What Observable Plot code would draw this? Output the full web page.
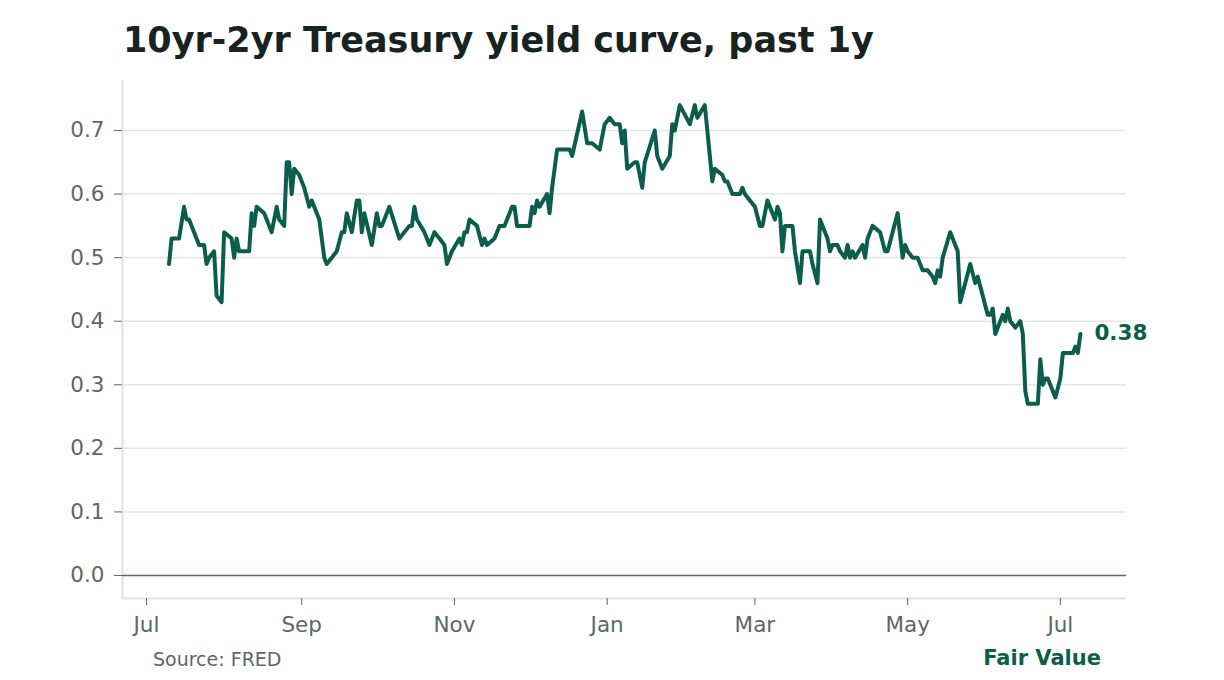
<!DOCTYPE html>
<html>
<head>
<meta charset="utf-8">
<script src="https://cdn.jsdelivr.net/npm/d3@7"></script>
<script src="https://cdn.jsdelivr.net/npm/@observablehq/plot@0.6"></script>
<style>
  html, body { margin: 0; padding: 0; background: #ffffff; }
  #wrap { position: relative; width: 1224px; height: 680px; overflow: hidden; font-family: "DejaVu Sans", sans-serif; }
  #title { position: absolute; left: 123px; top: 23px; font-size: 35px; line-height: 1; font-weight: bold; color: #17231f; white-space: nowrap; }
  #chart { position: absolute; left: 0; top: 62px; }
  #source { position: absolute; left: 153px; top: 650px; font-size: 19px; line-height: 1; color: #5a6966; white-space: nowrap; }
  #brand { position: absolute; right: 123px; top: 648px; font-size: 21px; line-height: 1; font-weight: bold; color: #0b5e4c; white-space: nowrap; }
</style>
</head>
<body>
<div id="wrap">
  <div id="title">10yr-2yr Treasury yield curve, past 1y</div>
  <div id="chart"></div>
  <div id="source">Source: FRED</div>
  <div id="brand">Fair Value</div>
</div>
<script>
// Observation dates (daily, sampled at visible turning points)
const dates = [
  "2025-07-10","2025-07-11","2025-07-14","2025-07-16","2025-07-17","2025-07-18","2025-07-22","2025-07-24","2025-07-25","2025-07-26","2025-07-28","2025-07-29","2025-07-31",
  "2025-08-01","2025-08-04","2025-08-05","2025-08-06","2025-08-07","2025-08-11","2025-08-12","2025-08-13","2025-08-14","2025-08-17","2025-08-19","2025-08-20","2025-08-22","2025-08-23","2025-08-25","2025-08-26","2025-08-27","2025-08-28","2025-08-29","2025-08-31",
  "2025-09-01","2025-09-02","2025-09-04","2025-09-05","2025-09-08","2025-09-09","2025-09-10","2025-09-11","2025-09-13","2025-09-15","2025-09-17","2025-09-18","2025-09-19","2025-09-21","2025-09-23","2025-09-24","2025-09-25","2025-09-26","2025-09-29",
  "2025-10-01","2025-10-02","2025-10-03","2025-10-06","2025-10-10","2025-10-14","2025-10-15","2025-10-16","2025-10-17","2025-10-20","2025-10-22","2025-10-24","2025-10-26","2025-10-28","2025-10-29","2025-10-31",
  "2025-11-03","2025-11-04","2025-11-05","2025-11-06","2025-11-07","2025-11-10","2025-11-12","2025-11-13","2025-11-14","2025-11-17","2025-11-19","2025-11-21","2025-11-24","2025-11-25","2025-11-26",
  "2025-12-01","2025-12-02","2025-12-03","2025-12-04","2025-12-05","2025-12-08","2025-12-09","2025-12-10","2025-12-12","2025-12-17","2025-12-18","2025-12-22","2025-12-24","2025-12-26","2025-12-29","2025-12-31",
  "2026-01-02","2026-01-04","2026-01-06","2026-01-07","2026-01-08","2026-01-09","2026-01-12","2026-01-13","2026-01-15","2026-01-16","2026-01-20","2026-01-21","2026-01-23","2026-01-26","2026-01-27","2026-01-28","2026-01-30",
  "2026-02-03","2026-02-05","2026-02-06","2026-02-09","2026-02-12","2026-02-13","2026-02-16","2026-02-17","2026-02-18","2026-02-20","2026-02-23","2026-02-24","2026-02-25","2026-02-27",
  "2026-03-01","2026-03-03","2026-03-04","2026-03-06","2026-03-09","2026-03-10","2026-03-11","2026-03-12","2026-03-13","2026-03-16","2026-03-17","2026-03-19","2026-03-20","2026-03-23","2026-03-24","2026-03-26","2026-03-27","2026-03-30","2026-03-31",
  "2026-04-01","2026-04-03","2026-04-04","2026-04-06","2026-04-07","2026-04-08","2026-04-09","2026-04-10","2026-04-13","2026-04-14","2026-04-15","2026-04-17","2026-04-20","2026-04-22","2026-04-23","2026-04-27","2026-04-29","2026-04-30",
  "2026-05-01","2026-05-03","2026-05-05","2026-05-06","2026-05-07","2026-05-09","2026-05-11","2026-05-12","2026-05-13","2026-05-14","2026-05-15","2026-05-18","2026-05-19","2026-05-21","2026-05-22","2026-05-26","2026-05-28","2026-05-29","2026-05-31",
  "2026-06-02","2026-06-03","2026-06-04","2026-06-05","2026-06-08","2026-06-09","2026-06-10","2026-06-11","2026-06-13","2026-06-15","2026-06-16","2026-06-17","2026-06-18","2026-06-22","2026-06-23","2026-06-24","2026-06-25","2026-06-26","2026-06-29",
  "2026-07-01","2026-07-02","2026-07-05","2026-07-06","2026-07-07","2026-07-08","2026-07-09"
];
// 10yr minus 2yr spread, percentage points
const spread = [
  0.49,0.53,0.53,0.58,0.56,0.56,0.52,0.52,0.49,0.50,0.51,0.44,0.43,
  0.54,0.53,0.50,0.53,0.51,0.51,0.57,0.55,0.58,0.57,0.55,0.54,0.58,0.56,0.55,0.65,0.65,0.60,0.64,0.63,
  0.62,0.61,0.58,0.59,0.56,0.53,0.50,0.49,0.50,0.51,0.54,0.54,0.57,0.54,0.59,0.59,0.54,0.57,0.52,
  0.57,0.55,0.55,0.58,0.53,0.55,0.55,0.58,0.56,0.54,0.52,0.54,0.53,0.52,0.49,0.51,
  0.53,0.52,0.54,0.54,0.56,0.55,0.52,0.53,0.52,0.53,0.55,0.55,0.58,0.58,0.55,
  0.55,0.58,0.57,0.59,0.58,0.60,0.57,0.61,0.67,0.67,0.66,0.73,0.68,0.68,0.67,0.71,
  0.72,0.71,0.71,0.68,0.70,0.64,0.65,0.65,0.61,0.65,0.70,0.66,0.64,0.66,0.71,0.70,0.74,
  0.71,0.74,0.72,0.74,0.62,0.64,0.63,0.62,0.62,0.60,0.60,0.61,0.60,0.59,
  0.58,0.55,0.55,0.59,0.56,0.58,0.57,0.51,0.55,0.55,0.51,0.46,0.51,0.51,0.49,0.46,0.56,0.53,0.51,
  0.52,0.52,0.51,0.50,0.52,0.50,0.51,0.50,0.52,0.50,0.53,0.55,0.54,0.51,0.51,0.57,0.50,0.52,
  0.51,0.50,0.50,0.49,0.48,0.48,0.47,0.46,0.48,0.47,0.50,0.54,0.53,0.51,0.43,0.49,0.46,0.47,0.44,
  0.41,0.41,0.42,0.38,0.41,0.40,0.42,0.40,0.39,0.40,0.38,0.29,0.27,0.27,0.34,0.30,0.31,0.31,0.28,
  0.31,0.35,0.35,0.35,0.36,0.35,0.38
];
const yTicks = [0.0, 0.1, 0.2, 0.3, 0.4, 0.5, 0.6, 0.7];
const gridTicks = [0.1, 0.2, 0.3, 0.4, 0.5, 0.6, 0.7];
const xTickDates = ["2025-07-01","2025-09-01","2025-11-01","2026-01-01","2026-03-01","2026-05-01","2026-07-01"];

const green = "#0b5e4c";
const textGray = "#5a6966";

const data = dates.map((d, i) => ({date: new Date(d + "T00:00:00Z"), value: spread[i]}));
const last = data[data.length - 1];
const xTicks = xTickDates.map(d => new Date(d + "T00:00:00Z"));
const xDomain = [new Date(Date.UTC(2025, 5, 21, 10)), new Date(Date.UTC(2026, 6, 27, 10))];
const yDomain = [-0.0362, 0.7787];

const chart = Plot.plot({
  width: 1224,
  height: 585,
  marginTop: 18,
  marginBottom: 49,
  marginLeft: 122,
  marginRight: 98,
  style: {fontFamily: "DejaVu Sans, sans-serif", fontSize: "21.5px", color: textGray, background: "transparent", overflow: "visible"},
  x: {type: "utc", domain: xDomain},
  y: {domain: yDomain},
  marks: [
    Plot.ruleY(gridTicks, {stroke: "#e3e6e5", strokeWidth: 1.5}),
    Plot.ruleX([xDomain[0]], {stroke: "#dfe3e1", strokeWidth: 2}),
    Plot.ruleY([yDomain[0]], {stroke: "#dfe3e1", strokeWidth: 2}),
    Plot.ruleY([0], {stroke: "#5d6865", strokeWidth: 1.5}),
    Plot.axisY({ticks: yTicks, tickFormat: d3.format(".1f"), tickSize: 8, tickPadding: 10, stroke: "#5d6865", fill: textGray, fontSize: 21.5, label: null}),
    Plot.axisX({ticks: xTicks, tickFormat: d3.utcFormat("%b"), tickSize: 7, tickPadding: 11, stroke: "#5d6865", fill: textGray, fontSize: 21.5, label: null}),
    Plot.lineY(data, {x: "date", y: "value", stroke: green, strokeWidth: 4, strokeLinejoin: "round", strokeLinecap: "round"}),
    Plot.text([last], {x: "date", y: "value", text: d => d.value.toFixed(2), dx: 14, dy: -1, textAnchor: "start", fill: green, fontWeight: "bold", fontSize: 21.5})
  ]
});
document.getElementById("chart").appendChild(chart);
</script>
</body>
</html>
